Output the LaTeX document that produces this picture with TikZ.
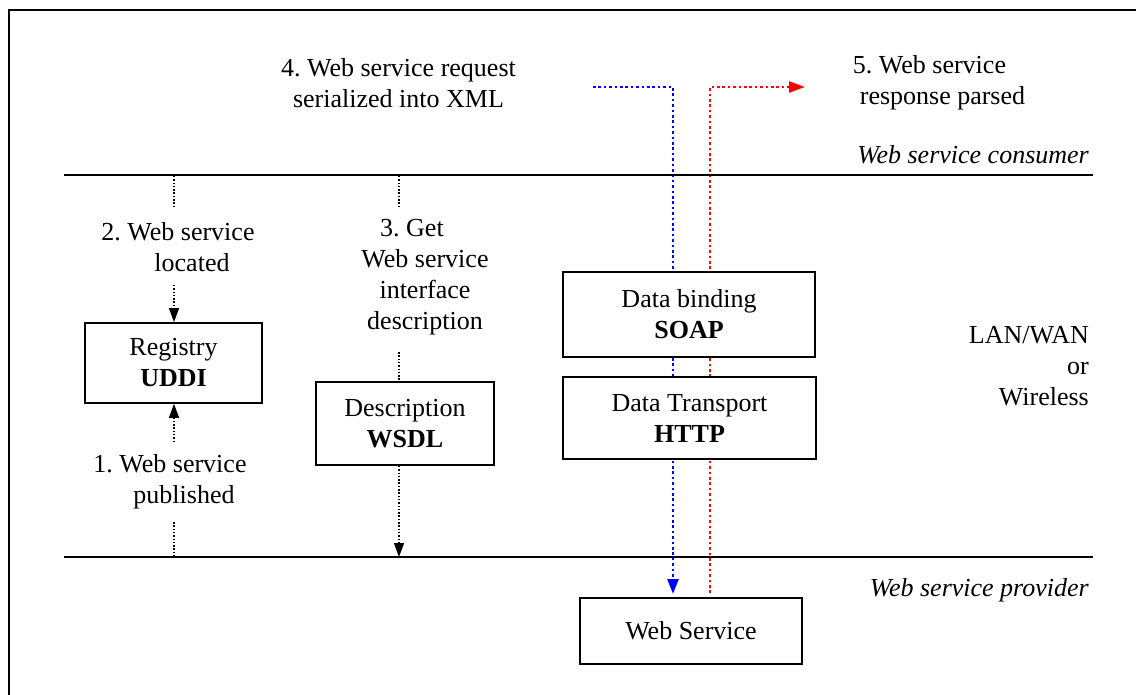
\documentclass[tikz,border=0pt]{standalone}
\usepackage{fontspec}
\setmainfont{Liberation Serif}
\usetikzlibrary{arrows.meta,backgrounds,calc}
\begin{document}
\begin{tikzpicture}[x=1pt,y=-1pt,
  every node/.style={font=\rmfamily\fontsize{26}{31}\selectfont\frenchspacing, inner sep=0pt},
  box/.style={draw, line width=1.8pt, fill=white, align=center},
  lbl/.style={align=center},
  sep/.style={line width=2pt},
  kdot/.style={line width=1.5pt, dash pattern=on 1.5pt off 1.8pt},
  karrow/.style={kdot, -{Triangle[length=14pt,width=10pt]}},
  bdot/.style={draw=blue, line width=2.6pt, dash pattern=on 2.6pt off 2.8pt},
  rdot/.style={draw=red, line width=2.6pt, dash pattern=on 2.6pt off 2.8pt}]
\useasboundingbox (0,0) rectangle (1136,695);
% outer frame (only left and top edges visible)
\draw[line width=2.2pt] (9,700) -- (9,10) -- (1140,10);

% layer separators
\coordinate (tl) at (64,175);  \coordinate (tr) at (1093,175);
\coordinate (bl) at (64,557);  \coordinate (br) at (1093,557);
\draw[sep] (tl) -- (tr);
\draw[sep] (bl) -- (br);

% boxes
\node[box, minimum width=177pt, minimum height=80pt] (reg) at (173.5,363) {Registry\\\textbf{UDDI}};
\node[box, minimum width=178pt, minimum height=83pt] (desc) at (405,423.5) {Description\\\textbf{WSDL}};
\node[box, minimum width=252pt, minimum height=85pt] (soap) at (689,314.5) {Data binding\\\textbf{SOAP}};
\node[box, minimum width=253pt, minimum height=82pt] (http) at (689.5,418) {Data Transport\\\textbf{HTTP}};
\node[box, minimum width=222pt, minimum height=66pt] (ws) at (691,631) {Web Service};

% labels
\node[lbl] (l2) at (178,247.5) {2. Web service\\\hspace*{28pt}located};
\node[lbl] (l1) at (170,482) {1. Web service\\\hspace*{28pt}published};
\node[lbl] (l3) at (425,277.5) {3. Get\hspace*{26pt}\\Web service\\interface\\description};
\node[lbl] (l4) at (398.5,83) {4. Web service request\\serialized into XML};
\node[lbl] (l5) at (929.5,83) {5. Web service\\\hspace*{26pt}response parsed};
\node[anchor=east] (cons) at (1089,155) {\itshape Web service consumer};
\node[anchor=east] (prov) at (1089,590) {\itshape Web service provider};
\node[anchor=east, align=right] (net) at (1089,366) {LAN/WAN\\or\\Wireless};

% black dotted connectors
\coordinate (p1) at (174,176);  \coordinate (p2) at (174,207);
\coordinate (p3) at (174,285);
\coordinate (p4) at (174,442);
\coordinate (p5) at (174,522);  \coordinate (p6) at (174,557);
\draw[kdot] (p1) -- (p2);
\draw[karrow] (p3) -- (reg.north -| p3);
\draw[karrow] (p4) -- (reg.south -| p4);
\draw[kdot] (p5) -- (p6);

\coordinate (q1) at (399,176);  \coordinate (q2) at (399,207);
\coordinate (q3) at (399,352);
\coordinate (q4) at (399,557);
\draw[kdot] (q1) -- (q2);
\draw[kdot] (q3) -- (desc.north -| q3);
\draw[karrow] (desc.south -| q4) -- (q4);

% request / response paths (behind the boxes)
\coordinate (b0) at (593,87);  \coordinate (b1) at (673,87);  \coordinate (b2) at (673,594);
\coordinate (r0) at (710,593); \coordinate (r1) at (710,87);  \coordinate (r2) at (805,87);
\begin{scope}[on background layer]
\draw[bdot, -{Triangle[length=15pt,width=11pt]}, blue] (b0) -- (b1) -- (b2);
\draw[rdot, -{Triangle[length=16pt,width=11pt]}, red] (r0) -- (r1) -- (r2);
\end{scope}
\end{tikzpicture}
\end{document}
